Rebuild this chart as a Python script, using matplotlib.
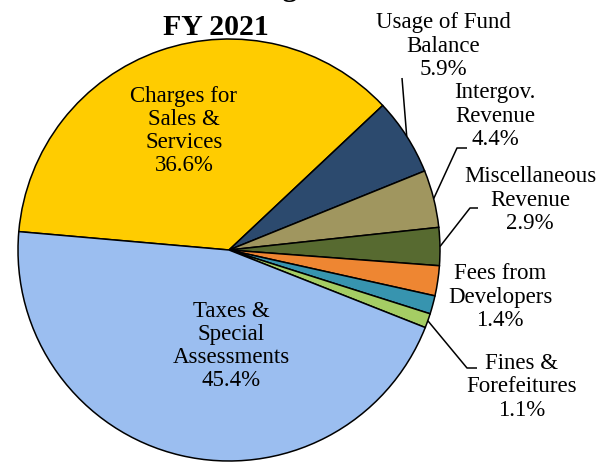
import matplotlib
matplotlib.use("Agg")
import matplotlib.pyplot as plt
import numpy as np

# Revenue sources, in clockwise order starting from the left edge of the pie
categories = [
    "Charges for\nSales &\nServices",
    "Usage of Fund\nBalance",
    "Intergov.\nRevenue",
    "Miscellaneous\nRevenue",
    "Licenses &\nPermits",
    "Fees from\nDevelopers",
    "Fines &\nForefeitures",
    "Taxes &\nSpecial\nAssessments",
]
shares = [36.6, 5.9, 4.4, 2.9, 2.3, 1.4, 1.1, 45.4]
show_label = [True, True, True, True, False, True, True, True]
colors = ["#FFCC00", "#2C4A6E", "#A0965F", "#576A30",
          "#EE8632", "#3794AF", "#A5CD64", "#9BBEF0"]

title_lines = ["Revenue Budget", "FY 2021"]

W, H = 609, 462
fig = plt.figure(figsize=(W / 100, H / 100), dpi=100)
fig.patch.set_facecolor("white")

cx, cy, r = 229, 250, 211
ax = fig.add_axes([(cx - r) / W, (H - cy - r) / H, 2 * r / W, 2 * r / H])

wedges, _ = ax.pie(shares, colors=colors, startangle=175, counterclock=False,
                   radius=1.0,
                   wedgeprops=dict(edgecolor="black", linewidth=1.1))
ax.set_xlim(-1, 1)
ax.set_ylim(-1, 1)
ax.set_aspect("equal")
ax.axis("off")


def px(x, y):
    """Pixel position on the canvas -> pie data coordinates."""
    return (x - cx) / r, (cy - y) / r


font = dict(family=["Liberation Serif", "DejaVu Serif"], fontsize=16.5,
            color="black")

# label centres (pixels)
label_pos = {
    0: (184, 131),
    1: (443, 46),
    2: (495, 116),
    3: (530, 200),
    5: (500, 297),
    6: (522, 387),
    7: (231, 346),
}

for i, (name, v) in enumerate(zip(categories, shares)):
    if not show_label[i]:
        continue
    x, y = px(*label_pos[i])
    ax.text(x, y, f"{name}\n{v:.1f}%", ha="center", va="center",
            linespacing=1.13, clip_on=False, **font)

# leader lines from the wedge rim to the outside labels
leaders = {
    1: [(402, 78)],
    2: [(457, 148), (467, 148)],
    3: [(470, 208), (478, 208)],
    6: [(467, 368), (477, 368)],
}
for i, pts in leaders.items():
    w = wedges[i]
    mid = np.deg2rad((w.theta1 + w.theta2) / 2)
    xs = [np.cos(mid)] + [px(*p)[0] for p in pts]
    ys = [np.sin(mid)] + [px(*p)[1] for p in pts]
    ax.plot(xs, ys, color="black", lw=1.1, clip_on=False,
            solid_capstyle="butt")

tfont = dict(family=["Liberation Serif", "DejaVu Serif"], fontsize=21.5,
             fontweight="bold", color="black")
# the upper title line sits above the top edge; only its descenders show
fig.text(216 / W, 1 + 4 / H, title_lines[0], ha="center", va="baseline", **tfont)
fig.text(216 / W, 1 - 35 / H, title_lines[1], ha="center", va="baseline", **tfont)

fig.savefig("out.png", dpi=100, facecolor="white")
